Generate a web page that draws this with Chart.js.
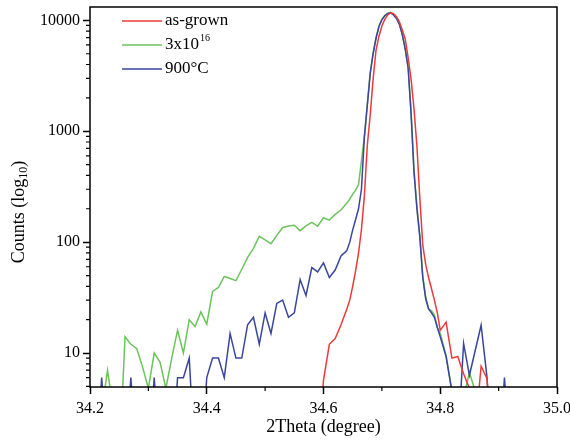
<!DOCTYPE html>
<html>
<head>
<meta charset="utf-8">
<script src="https://cdn.jsdelivr.net/npm/chart.js@4.4.1/dist/chart.umd.min.js"></script>
<style>
html, body { margin: 0; padding: 0; background: #fff; }
#wrap { width: 570px; height: 446px; }
</style>
</head>
<body>
<div id="wrap"><canvas id="xrd"></canvas></div>
<script>
// 2Theta grid (finer around the peak)
var theta = [
  34.20, 34.21, 34.22, 34.23, 34.24, 34.25, 34.26, 34.27, 34.28, 34.29,
  34.30, 34.31, 34.32, 34.33, 34.34, 34.35, 34.36, 34.37, 34.38, 34.39,
  34.40, 34.41, 34.42, 34.43, 34.44, 34.45, 34.46, 34.47, 34.48, 34.49,
  34.50, 34.51, 34.52, 34.53, 34.54, 34.55, 34.56, 34.57, 34.58, 34.59,
  34.60, 34.61, 34.62, 34.63, 34.64, 34.645, 34.65, 34.655, 34.66, 34.665,
  34.67, 34.675, 34.68, 34.685, 34.69, 34.695, 34.70, 34.705, 34.71, 34.715,
  34.72, 34.725, 34.73, 34.735, 34.74, 34.745, 34.75, 34.755, 34.76, 34.765,
  34.77, 34.775, 34.78, 34.785, 34.79, 34.795, 34.80, 34.81, 34.82, 34.83,
  34.84, 34.85, 34.86, 34.87, 34.88, 34.89, 34.90, 34.91, 34.92
];
var asGrown = [
  1, 1, 1, 1, 1, 1, 1, 1, 1, 1,
  1, 1, 1, 1, 1, 1, 1, 1, 1, 1,
  1, 1, 1, 1, 1, 1, 1, 1, 1, 1,
  1, 1, 1, 1, 1, 1, 1, 1, 1, 1,
  5.7, 12, 13.5, 18, 25, 30, 40, 55, 80, 130,
  260, 740, 1400, 2950, 5400, 7200, 8900, 10200, 11200, 11700,
  11500, 10800, 9700, 8200, 6800, 4600, 2950, 1600, 740, 250,
  95, 63, 48, 38, 30, 23, 16, 19, 9, 9.3,
  6.5, 4.8, 2, 7.6, 5.9, 1, 1, 1, 1
];
var implanted = [
  1, 1, 3, 7, 3, 1, 14, 12, 11, 7.5,
  4.8, 10, 8.3, 4.8, 9, 16, 10, 20, 17.3, 23.5,
  18.2, 36, 39, 49, 47, 45, 57, 73, 88, 113,
  105, 97, 115, 135, 140, 142, 127, 140, 151, 139,
  166, 158, 178, 195, 225, 245, 270, 295, 330, 540,
  900, 1740, 3390, 5100, 7000, 8900, 10200, 11100, 11600, 11800,
  11300, 10500, 9300, 7500, 5600, 3800, 1500, 450, 210, 115,
  50, 32, 25, 24, 22, 17, 15, 9.5, 4.5, 2,
  4, 6.7, 4.5, 1, 1, 1, 1, 1, 1
];
var annealed = [
  1, 1, 6, 1, 1, 1, 1, 6, 1, 1,
  1, 6, 1, 1, 1, 6, 6, 9, 1, 1,
  6, 9, 9, 6, 15, 9, 9, 18, 21, 12,
  23, 15, 28, 30, 21, 23, 46, 33, 59, 54,
  65, 48, 56, 75, 84, 100, 129, 160, 200, 300,
  880, 1700, 3300, 5000, 6900, 8800, 10100, 11000, 11500, 11700,
  11200, 10400, 9200, 7400, 5500, 3700, 1450, 430, 200, 112,
  48, 31, 25, 23, 21, 17, 14, 9.3, 4.5, 1.5,
  12.2, 6.3, 10.6, 17.8, 6.1, 1, 1, 6, 1
];
var seriesNames = ['as-grown', '3x10^16', '900°C'];
var seriesValues = [asGrown, implanted, annealed];
var seriesColors = ['#ee3a3a', '#6cc35c', '#3a45a0'];
var drawOrder = [0, 2, 1];
var yTickLabels = [10, 100, 1000, 10000];

var serif = '"Liberation Serif", "Times New Roman", serif';

function pairs(ys) {
  return theta.map(function (t, i) { return { x: t, y: ys[i] }; });
}

var decorations = {
  id: 'decorations',
  afterDraw: function (chart) {
    var ctx = chart.ctx, a = chart.chartArea;
    var xs = chart.scales.x, ys = chart.scales.y;
    ctx.save();
    ctx.strokeStyle = '#000';
    ctx.lineWidth = 1.2;
    ctx.beginPath();
    xs.ticks.forEach(function (t) {
      if (t.label === '') {
        var px = xs.getPixelForValue(t.value);
        ctx.moveTo(px, a.bottom);
        ctx.lineTo(px, a.bottom + 4);
      }
    });
    for (var d = 1; d <= 10000; d *= 10) {
      for (var k = 2; k <= 9; k++) {
        var v = k * d;
        if (v < ys.min || v > ys.max) continue;
        var py = ys.getPixelForValue(v);
        ctx.moveTo(a.left - 4, py);
        ctx.lineTo(a.left, py);
      }
    }
    ctx.stroke();
    ctx.lineWidth = 1.5;
    ctx.strokeRect(a.left, a.top, a.right - a.left, a.bottom - a.top);

    // y title with subscript
    ctx.fillStyle = '#000';
    ctx.save();
    ctx.translate(19, 212);
    ctx.rotate(-Math.PI / 2);
    ctx.textBaseline = 'middle';
    var big = '18px ' + serif, small = '12px ' + serif;
    ctx.font = big;
    var w1 = ctx.measureText('Counts (log').width;
    var w3 = ctx.measureText(')').width;
    ctx.font = small;
    var w2 = ctx.measureText('10').width;
    var x0 = -(w1 + w2 + w3) / 2;
    ctx.font = big;
    ctx.fillText('Counts (log', x0, 0);
    ctx.font = small;
    ctx.fillText('10', x0 + w1, 5);
    ctx.font = big;
    ctx.fillText(')', x0 + w1 + w2, 0);
    ctx.restore();

    // legend
    var ly = [21, 45, 69];
    ctx.textBaseline = 'middle';
    seriesNames.forEach(function (name, i) {
      ctx.strokeStyle = seriesColors[i];
      ctx.lineWidth = 1.5;
      ctx.beginPath();
      ctx.moveTo(122, ly[i]);
      ctx.lineTo(162, ly[i]);
      ctx.stroke();
      var parts = name.split('^');
      ctx.fillStyle = '#000';
      ctx.font = '17px ' + serif;
      ctx.fillText(parts[0], 165, ly[i]);
      if (parts[1]) {
        var bw = ctx.measureText(parts[0]).width;
        ctx.font = '10px ' + serif;
        ctx.fillText(parts[1], 165 + bw + 1, ly[i] - 7);
      }
    });
    ctx.restore();
  }
};

new Chart(document.getElementById('xrd'), {
  type: 'line',
  data: {
    datasets: seriesNames.map(function (name, i) {
      return {
        label: name,
        data: pairs(seriesValues[i]),
        borderColor: seriesColors[i],
        backgroundColor: seriesColors[i],
        borderWidth: 1.5,
        pointRadius: 0,
        tension: 0,
        fill: false,
        clip: 0,
        order: drawOrder[i]
      };
    })
  },
  options: {
    responsive: true,
    maintainAspectRatio: false,
    animation: false,
    devicePixelRatio: 1,
    layout: { padding: { left: 0, right: 13, top: 7, bottom: 0 } },
    plugins: { legend: { display: false }, tooltip: { enabled: false } },
    scales: {
      x: {
        type: 'linear',
        min: 34.2,
        max: 35.0,
        afterFit: function (s) {
          s.height = 59;
          s.paddingLeft = 0;
          s.paddingRight = 0;
        },
        border: { display: false },
        grid: {
          drawOnChartArea: false,
          drawTicks: true,
          tickLength: 7,
          tickWidth: 1.5,
          tickColor: function (c) { return c.tick && c.tick.label !== '' ? '#000' : 'rgba(0,0,0,0)'; }
        },
        ticks: {
          stepSize: 0.1,
          autoSkip: false,
          maxRotation: 0,
          padding: 5,
          color: '#000',
          font: { family: serif, size: 16 },
          callback: function (v) { return Math.round(v * 10) % 2 === 0 ? v.toFixed(1) : ''; }
        },
        title: {
          display: true,
          text: '2Theta (degree)',
          color: '#000',
          font: { family: serif, size: 18 },
          padding: { top: 0, bottom: 8 }
        }
      },
      y: {
        type: 'logarithmic',
        min: 4.94,
        max: 13200,
        afterFit: function (s) {
          s.width = 90;
          s.paddingTop = 0;
          s.paddingBottom = 0;
        },
        border: { display: false },
        grid: {
          drawOnChartArea: false,
          drawTicks: true,
          tickLength: 7,
          tickWidth: 1.5,
          tickColor: function (c) { return c.tick && c.tick.label !== '' ? '#000' : 'rgba(0,0,0,0)'; }
        },
        ticks: {
          autoSkip: false,
          padding: 3,
          color: '#000',
          font: { family: serif, size: 16 },
          callback: function (v) { return yTickLabels.indexOf(v) >= 0 ? String(v) : ''; }
        }
      }
    }
  },
  plugins: [decorations]
});
</script>
</body>
</html>
